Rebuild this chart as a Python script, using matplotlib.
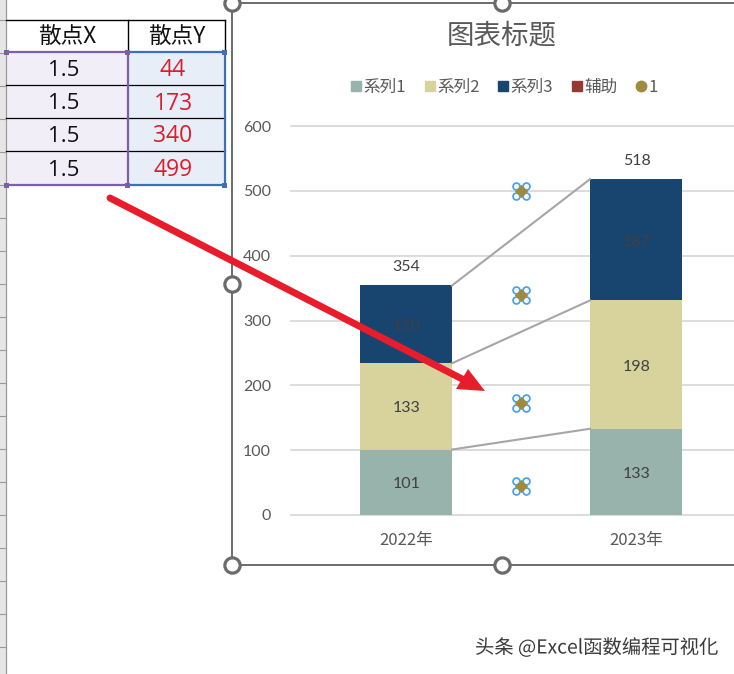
import glob
import matplotlib
matplotlib.use("Agg")
import matplotlib.pyplot as plt
from matplotlib.lines import Line2D
from matplotlib.patches import Rectangle, Polygon
from matplotlib.transforms import offset_copy
from matplotlib.font_manager import FontProperties
import matplotlib.patheffects as pe

LAT = "Lato"
plt.rcParams["font.family"] = [LAT]
_cjk_files = glob.glob("/usr/share/fonts/**/NotoSansCJK-Regular.ttc", recursive=True)


def cjk(size):
    if _cjk_files:
        return FontProperties(fname=_cjk_files[0], size=size)
    return FontProperties(family="Noto Sans CJK JP", size=size)


# ---- data ----
categories = ["2022年", "2023年"]
series1 = [101, 133]
series2 = [133, 198]
series3 = [120, 187]
totals = [354, 518]
scatter_x = [1.5, 1.5, 1.5, 1.5]
scatter_y = [44, 173, 340, 499]
y_ticks = [0, 100, 200, 300, 400, 500, 600]
table_headers = ["散点X", "散点Y"]
legend_labels = ["系列1", "系列2", "系列3", "辅助", "1"]
chart_title = "图表标题"
watermark = "头条 @Excel函数编程可视化"

# ---- style ----
W, H = 734, 674
C1, C2, C3, C4, C5 = "#97b3ab", "#d8d29d", "#17456f", "#953735", "#a08a3c"
TXT = "#595959"
LBL = "#404040"
GRID = "#d9d9d9"
FRAME = "#6b6b6b"
RED = "#e81c2a"

fig = plt.figure(figsize=(W / 100, H / 100), dpi=100, facecolor="white")

# ---- chart ----
ax = fig.add_axes([291 / W, (H - 515) / H, 460 / W, 389 / H])
ax.set_xlim(0.5, 2.5)
ax.set_ylim(0, 600)
ax.patch.set_alpha(0)
for s in ax.spines.values():
    s.set_visible(False)
ax.set_yticks(y_ticks)
ax.set_xticks([1, 2])
ax.set_xticklabels(categories, fontproperties=cjk(12))
ax.tick_params(axis="both", length=0, labelcolor=TXT)
ax.tick_params(axis="y", pad=14.3, labelsize=11.5)
ax.tick_params(axis="x", pad=12.3)
ax.grid(axis="y", color=GRID, lw=1.3, clip_on=False)
ax.set_axisbelow(True)
xs = [1, 2]
bw = 0.4
bot2 = [a for a in series1]
bot3 = [a + b for a, b in zip(series1, series2)]
ax.bar(xs, series1, bw, color=C1, zorder=2)
ax.bar(xs, series2, bw, bottom=bot2, color=C2, zorder=2)
ax.bar(xs, series3, bw, bottom=bot3, color=C3, zorder=2)


def lab(x, y, v, dy=-1.5):
    ax.annotate(str(v), (x, y), xytext=(0.4, dy), textcoords="offset points", ha="center", va="center",
                color=LBL, fontsize=11.5, zorder=3)


for i, x in enumerate(xs):
    lab(x, series1[i] / 2, series1[i])
    lab(x, bot2[i] + series2[i] / 2, series2[i])
    lab(x, bot3[i] + series3[i] / 2, series3[i])
    lab(x, totals[i] + 30, totals[i], dy=-0.7)

for a in (series1, bot3, totals):
    ax.plot([1 + bw / 2, 2 - bw / 2], [a[0], a[1]], color="#a6a6a6", lw=1.5, zorder=2.5)

# scatter points with selection handles
for dx in (-5, 5):
    for dy in (-5, 5):
        tr = offset_copy(ax.transData, fig=fig, x=dx, y=dy, units="dots")
        ax.plot(scatter_x, scatter_y, ls="none", marker="o", ms=5, mfc="#eef7ff",
                mec="#4a9fe3", mew=1.2, transform=tr, zorder=5)
ax.scatter(scatter_x, scatter_y, s=46, color=C5, marker="D", zorder=6, linewidths=0)

# legend
handles = [
    Line2D([], [], ls="none", marker="s", ms=6.6, color=C1),
    Line2D([], [], ls="none", marker="s", ms=6.6, color=C2),
    Line2D([], [], ls="none", marker="s", ms=6.6, color=C3),
    Line2D([], [], ls="none", marker="s", ms=6.6, color=C4),
    Line2D([], [], ls="none", marker="o", ms=7.5, color=C5),
]
fig.legend(handles, legend_labels, ncol=5, loc="center", bbox_to_anchor=(504 / W, 1 - 87 / H),
           frameon=False, prop=cjk(12), labelcolor=TXT, handlelength=0.7,
           handletextpad=0.1, columnspacing=1.05, borderpad=0)

fig.text(502 / W, 1 - 36 / H, chart_title, ha="center", va="center", color=TXT, fontproperties=cjk(19.8))

# ---- pixel overlay: sheet, table, frame, arrow, watermark ----
ov = fig.add_axes([0, 0, 1, 1], zorder=10)
ov.set_xlim(0, W)
ov.set_ylim(H, 0)
ov.axis("off")

# sheet row header strip
ov.add_patch(Rectangle((0, 0), 5.5, H, fc="#e6e6e6", ec="none"))
ov.plot([5.5, 5.5], [0, H], color="#9a9a9a", lw=0.9)
for k in range(20):
    yy = 19.7 + 33 * k
    ov.plot([0, 5.5], [yy, yy], color="#9a9a9a", lw=0.8)

# table
rows = [52, 85, 118, 151, 185]
ov.add_patch(Rectangle((6, 52), 121.5, 133, fc="#f1eef8", ec="none"))
ov.add_patch(Rectangle((127.5, 52), 97.5, 133, fc="#e8eef8", ec="none"))
ov.plot([6, 225], [19.5, 19.5], color="black", lw=1)
ov.plot([127.5, 127.5], [19.5, 52], color="black", lw=1)
ov.plot([224.5, 224.5], [19.5, 52], color="black", lw=1)
for yy in rows[1:-1]:
    ov.plot([6, 225], [yy, yy], color="black", lw=0.9)
ov.plot([6, 127], [52, 52], color="#7b5fa8", lw=1.6)
ov.plot([6, 127], [185, 185], color="#7b5fa8", lw=1.6)
ov.plot([128, 128], [52, 185], color="#7b5fa8", lw=1.6)
ov.plot([131, 225], [52, 52], color="#3f6fb8", lw=1.6)
ov.plot([131, 225], [185, 185], color="#3f6fb8", lw=1.6)
ov.plot([225, 225], [52, 185], color="#3f6fb8", lw=1.6)
for (px, py, c) in [(6, 52, "#7b5fa8"), (6, 185, "#7b5fa8"), (127.5, 52, "#7b5fa8"), (127.5, 185, "#7b5fa8"),
                    (224.5, 52, "#3f6fb8"), (224.5, 185, "#3f6fb8")]:
    ov.add_patch(Rectangle((px - 2.5, py - 2.5), 5, 5, fc=c, ec="none", zorder=5))
for cx, h in zip((67, 177), table_headers):
    ov.text(cx, 36, h, ha="center", va="center", color="#111111", fontproperties=cjk(16.3))
for j in range(4):
    cy = (rows[j] + rows[j + 1]) / 2 + 2
    ov.text(63.5, cy, f"{scatter_x[j]:.1f}", ha="center", va="center", fontsize=16, color="#111111",
            family="Open Sans")
    ov.text(173, cy, str(scatter_y[j]), ha="center", va="center", fontsize=16.5, color="#d81e2c",
            family="Open Sans")

# chart frame and sizing handles
ov.plot([231.5, 231.5], [3, 565], color=FRAME, lw=1.4)
ov.plot([231.5, W], [3, 3], color=FRAME, lw=1.4)
ov.plot([231.5, W], [565, 565], color=FRAME, lw=1.4)
for (hx, hy) in [(232, 3), (502, 3), (232, 284), (232, 565), (502, 565)]:
    ov.plot([hx], [hy], marker="o", ms=11, mfc="white", mec=FRAME, mew=2.3, clip_on=True, zorder=6)

# red arrow
ov.plot([110, 468], [198, 382], color=RED, lw=5, solid_capstyle="round", zorder=7)
ov.add_patch(Polygon([(485, 391), (456, 389), (468, 369)], closed=True, fc=RED, ec="none", zorder=7))

# watermark
ov.text(596.5, 648, watermark, ha="center", va="center", color="#3a3a3a", zorder=8, fontproperties=cjk(13.9),
        path_effects=[pe.withStroke(linewidth=1.5, foreground="white")])

fig.savefig("out.png", dpi=100, facecolor="white")
